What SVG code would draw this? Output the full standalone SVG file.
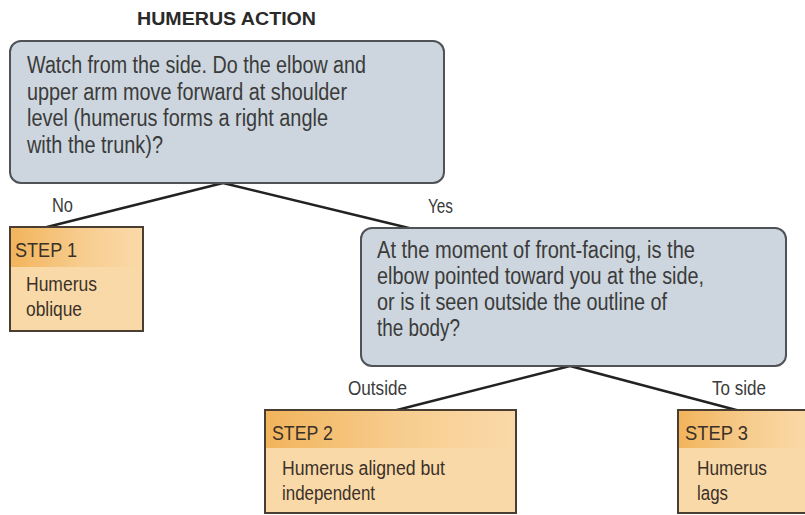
<svg xmlns="http://www.w3.org/2000/svg" width="805" height="515" viewBox="0 0 805 515">
  <style>
    text { font-family: "Liberation Sans", Arial, sans-serif; fill: #3b3b3b; }
    .title { font-size: 19px; font-weight: bold; fill: #2a2a2a; }
    .q { font-size: 23px; }
    .lbl { font-size: 19.5px; }
    .step { font-size: 20px; fill: #3a3128; }
    .body { font-size: 20px; fill: #3a3128; }
    .question { fill: #cdd6de; stroke: #4f5256; stroke-width: 2; }
    .card { fill: #fad9a8; stroke: #4a3e33; stroke-width: 2; }
    .band { fill: url(#bandFade); }
    .edge { stroke: #222; stroke-width: 2.5; fill: none; }
  </style>
  <defs>
    <linearGradient id="bandFade" x1="0" y1="0" x2="1" y2="0">
      <stop offset="0" stop-color="#f2b45c"/>
      <stop offset="0.55" stop-color="#f7cd8f"/>
      <stop offset="1" stop-color="#fad9a8"/>
    </linearGradient>
  </defs>
  <rect width="805" height="515" fill="#ffffff"/>

  <text class="title" x="137" y="25" textLength="179" lengthAdjust="spacingAndGlyphs">HUMERUS ACTION</text>

  <g id="connectors">
    <line class="edge" x1="223" y1="183" x2="43" y2="228"/>
    <line class="edge" x1="223" y1="183" x2="413" y2="229"/>
    <line class="edge" x1="570" y1="366" x2="393" y2="411"/>
    <line class="edge" x1="570" y1="366" x2="740" y2="411"/>
    <text class="lbl" x="52" y="212" textLength="21" lengthAdjust="spacingAndGlyphs">No</text>
    <text class="lbl" x="428" y="213" textLength="25" lengthAdjust="spacingAndGlyphs">Yes</text>
    <text class="lbl" x="348" y="395" textLength="59" lengthAdjust="spacingAndGlyphs">Outside</text>
    <text class="lbl" x="712" y="395" textLength="54" lengthAdjust="spacingAndGlyphs">To side</text>
  </g>

  <g id="q1">
    <rect class="question" x="10" y="41" width="434" height="142" rx="11"/>
    <text class="q" x="27" y="73" textLength="339" lengthAdjust="spacingAndGlyphs">Watch from the side. Do the elbow and</text>
    <text class="q" x="27" y="99.5" textLength="320" lengthAdjust="spacingAndGlyphs">upper arm move forward at shoulder</text>
    <text class="q" x="27" y="126" textLength="301" lengthAdjust="spacingAndGlyphs">level (humerus forms a right angle</text>
    <text class="q" x="27" y="152.5" textLength="136" lengthAdjust="spacingAndGlyphs">with the trunk)?</text>
  </g>

  <g id="step1">
    <rect class="card" x="10" y="227" width="133" height="104"/>
    <rect class="band" x="11" y="228" width="131" height="39"/>
    <text class="step" x="15" y="257" textLength="62" lengthAdjust="spacingAndGlyphs">STEP 1</text>
    <text class="body" x="26" y="291" textLength="71" lengthAdjust="spacingAndGlyphs">Humerus</text>
    <text class="body" x="26" y="316" textLength="56" lengthAdjust="spacingAndGlyphs">oblique</text>
  </g>

  <g id="q2">
    <rect class="question" x="361" y="228" width="425" height="138" rx="11"/>
    <text class="q" x="377" y="258" textLength="318" lengthAdjust="spacingAndGlyphs">At the moment of front-facing, is the</text>
    <text class="q" x="377" y="284" textLength="327" lengthAdjust="spacingAndGlyphs">elbow pointed toward you at the side,</text>
    <text class="q" x="377" y="310" textLength="290" lengthAdjust="spacingAndGlyphs">or is it seen outside the outline of</text>
    <text class="q" x="377" y="336" textLength="83" lengthAdjust="spacingAndGlyphs">the body?</text>
  </g>

  <g id="step2">
    <rect class="card" x="265" y="410" width="251" height="103"/>
    <rect class="band" x="266" y="411" width="249" height="37"/>
    <text class="step" x="272" y="440" textLength="61" lengthAdjust="spacingAndGlyphs">STEP 2</text>
    <text class="body" x="282" y="475" textLength="163" lengthAdjust="spacingAndGlyphs">Humerus aligned but</text>
    <text class="body" x="282" y="500" textLength="93" lengthAdjust="spacingAndGlyphs">independent</text>
  </g>

  <g id="step3">
    <rect class="card" x="678" y="410" width="140" height="103"/>
    <rect class="band" x="679" y="411" width="130" height="37"/>
    <text class="step" x="685" y="440" textLength="63" lengthAdjust="spacingAndGlyphs">STEP 3</text>
    <text class="body" x="697" y="475" textLength="70" lengthAdjust="spacingAndGlyphs">Humerus</text>
    <text class="body" x="697" y="500" textLength="31" lengthAdjust="spacingAndGlyphs">lags</text>
  </g>
</svg>
